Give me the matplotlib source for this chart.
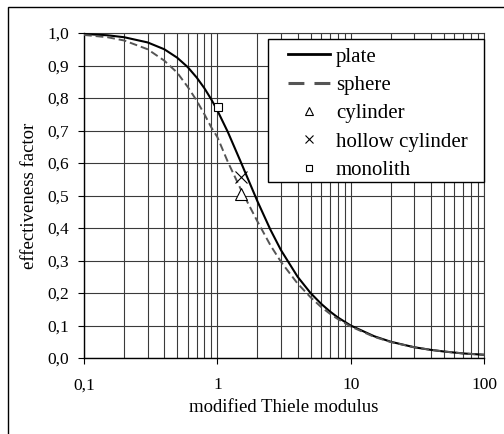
from matplotlib import pyplot as plt
from matplotlib.patches import Rectangle
from matplotlib.ticker import FixedLocator, NullFormatter

plt.rcParams['font.family'] = ['Liberation Serif', 'DejaVu Serif']

#
# Data
#
modulus = [0.1, 0.15, 0.2, 0.3, 0.4, 0.5, 0.6, 0.7, 0.8, 0.9, 1.0, 1.2, 1.5,
           2.0, 2.5, 3.0, 4.0, 5.0, 6.0, 7.0, 8.0, 10, 15, 20, 30, 40, 50, 70, 100]
plate = [0.997, 0.993, 0.987, 0.971, 0.950, 0.924, 0.895, 0.863, 0.830, 0.796,
         0.762, 0.695, 0.603, 0.482, 0.395, 0.332, 0.250, 0.200, 0.167, 0.143,
         0.125, 0.100, 0.067, 0.050, 0.033, 0.025, 0.020, 0.014, 0.010]
sphere = [0.994, 0.987, 0.977, 0.950, 0.915, 0.878, 0.834, 0.792, 0.750, 0.710,
          0.680, 0.603, 0.519, 0.420, 0.347, 0.296, 0.229, 0.187, 0.157, 0.136,
          0.120, 0.097, 0.065, 0.049, 0.033, 0.025, 0.020, 0.014, 0.010]

cylinder_x, cylinder_y = [1.5], [0.506]
hollow_x, hollow_y = [1.5], [0.558]
monolith_x, monolith_y = [1.01], [0.771]

y_ticks = [0.0, 0.1, 0.2, 0.3, 0.4, 0.5, 0.6, 0.7, 0.8, 0.9, 1.0]
y_labels = ['0,0', '0,1', '0,2', '0,3', '0,4', '0,5', '0,6', '0,7', '0,8', '0,9', '1,0']
x_ticks = [0.1, 1, 10, 100]
x_labels = ['0,1', '1', '10', '100']

#
# Figure
#
fig = plt.figure(figsize=(5.04, 4.34), dpi=100)
ax = fig.add_axes([84/504, 1 - 358/434, 400/504, 325/434])

# chart border (Excel style)
fig.patches.append(Rectangle((8/504, -0.1), 1.0, 1.1 - 7/434, transform=fig.transFigure,
                             fill=False, edgecolor='black', linewidth=1.0))

ax.plot(modulus, plate, color='black', lw=1.5, label='plate', zorder=3)
ax.plot(modulus, sphere, color='#555555', lw=1.4, dashes=(4, 2), label='sphere', zorder=3)
ax.plot(cylinder_x, cylinder_y, ls='none', marker='^', ms=8, mfc='white',
        mec='black', mew=0.8, label='cylinder', zorder=4)
ax.plot(hollow_x, hollow_y, ls='none', marker='x', ms=8, color='black',
        mew=0.8, label='hollow cylinder', zorder=4)
ax.plot(monolith_x, monolith_y, ls='none', marker='s', ms=6, mfc='white',
        mec='black', mew=0.8, label='monolith', zorder=4)

ax.set_xscale('log')
ax.set_xlim(0.1, 100)
ax.set_ylim(0, 1)
ax.xaxis.set_major_locator(FixedLocator(x_ticks))
ax.set_xticklabels(x_labels)
minor = [m * d for d in [0.1, 1, 10] for m in range(2, 10)]
ax.xaxis.set_minor_locator(FixedLocator(minor))
ax.xaxis.set_minor_formatter(NullFormatter())
ax.set_yticks(y_ticks)
ax.set_yticklabels(y_labels)

ax.grid(True, which='both', color='#3a3a3a', lw=0.8)
ax.set_axisbelow(True)
ax.tick_params(axis='both', which='major', direction='out', length=4,
               width=0.8, labelsize=12.5)
ax.tick_params(axis='x', which='major', pad=10)
ax.tick_params(axis='y', which='major', pad=7)
ax.tick_params(axis='x', which='minor', length=0)
for side in ['top', 'right']:
    ax.spines[side].set_color('#3a3a3a')
    ax.spines[side].set_linewidth(0.8)
for side in ['left', 'bottom']:
    ax.spines[side].set_linewidth(1.0)

ax.set_xlabel('modified Thiele modulus', fontsize=13.5, va='center')
ax.set_ylabel('effectiveness factor', fontsize=13.5, va='center')
ax.xaxis.set_label_coords(0.5, -0.151)
ax.yaxis.set_label_coords(-0.135, 0.5)

# legend box drawn separately so its padding matches the Excel one
ax.add_patch(Rectangle(((268 - 84)/400, (358 - 182)/325), 216/400, 143/325,
                       transform=ax.transAxes, facecolor='white', edgecolor='black',
                       linewidth=1.0, zorder=4.5, clip_on=False))
leg = ax.legend(loc='upper left', bbox_to_anchor=((288 - 84)/400, (358 - 47)/325),
                borderaxespad=0, borderpad=0, fontsize=15, frameon=False,
                handlelength=2.0, handletextpad=0.3, labelspacing=0.42,
                markerscale=0.75)
leg.set_zorder(5)
# Excel draws the legend keys thicker, with two long dashes for the sphere
leg_lines = leg.get_lines()
leg_lines[0].set_linewidth(2.0)
leg_lines[1].set_linewidth(2.2)
leg_lines[1].set_dashes((5.2, 3.3))

fig.savefig('out.png', dpi=100)
